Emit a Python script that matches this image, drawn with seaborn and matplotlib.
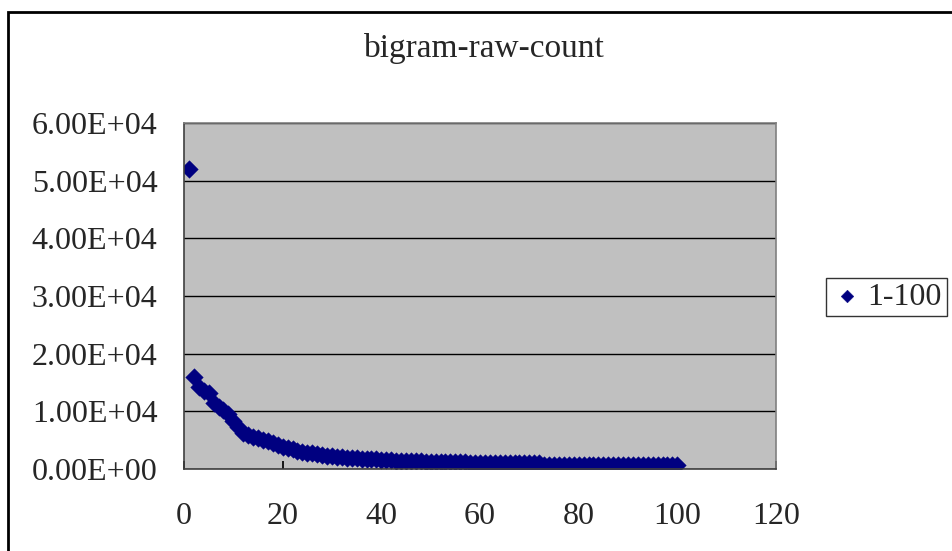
import matplotlib
matplotlib.use("Agg")
import matplotlib.pyplot as plt
import seaborn as sns
import pandas as pd
from matplotlib.patches import Rectangle

rank = list(range(1, 101))
counts = [
    52000, 16000, 14200, 13600, 13200, 11500, 10800, 10300, 9600, 8400,
    7200, 6300, 5900, 5600, 5300, 5100, 4800, 4500, 4200, 3900,
    3600, 3400, 3200, 3000, 2800, 2700, 2550, 2450, 2300, 2200,
    2100, 2050, 1980, 1900, 1850, 1800, 1750, 1700, 1650, 1550,
    1500, 1480, 1450, 1420, 1400, 1380, 1350, 1330, 1300, 1180,
    1170, 1160, 1150, 1150, 1140, 1130, 1130, 1120, 1120, 1110,
    1100, 1100, 1090, 1090, 1080, 1080, 1070, 1070, 1060, 1060,
    1050, 1050, 760, 750, 750, 740, 740, 730, 730, 720,
    720, 710, 710, 700, 700, 700, 690, 690, 690, 680,
    680, 680, 670, 670, 670, 660, 660, 660, 650, 650,
]
series_label = "1-100"
title = "bigram-raw-count"
yticks = [0, 10000, 20000, 30000, 40000, 50000, 60000]
ytick_labels = ["0.00E+00", "1.00E+04", "2.00E+04", "3.00E+04", "4.00E+04", "5.00E+04", "6.00E+04"]
xticks = [0, 20, 40, 60, 80, 100, 120]

df = pd.DataFrame({"rank": rank, "count": counts})

sns.set_theme(style="white")
font = ["Liberation Serif", "DejaVu Serif"]
plt.rcParams["font.family"] = font

fig = plt.figure(figsize=(9.52, 5.51), dpi=100)
W, H = 952, 551
ax = fig.add_axes([184 / W, (H - 469) / H, (776 - 184) / W, (469 - 123) / H])
ax.set_facecolor("#C0C0C0")

sns.scatterplot(data=df, x="rank", y="count", ax=ax, marker="D", s=80,
                color="#000080", edgecolor="#000080", linewidth=0.3,
                label=series_label, legend=True)

ax.set_xlim(0, 120)
ax.set_ylim(0, 60000)
ax.set_xticks(xticks)
ax.set_xticklabels([str(v) for v in xticks], fontsize=23)
ax.set_yticks(yticks)
ax.set_yticklabels(ytick_labels, fontsize=23)
ax.set_xlabel("")
ax.set_ylabel("")
ax.yaxis.grid(True, color="black", linewidth=1.0)
ax.xaxis.grid(False)
ax.set_axisbelow(True)
for s in ax.spines.values():
    s.set_color("#808080")
    s.set_linewidth(1.2)
ax.spines["left"].set_color("#404040")
ax.spines["bottom"].set_color("#404040")
ax.tick_params(axis="x", direction="in", length=6, color="black", pad=24, bottom=True)
ax.tick_params(axis="y", direction="in", length=0, pad=19, left=True)

fig.text(484 / W, 1 - 48 / H, title, ha="center", va="center", fontsize=24, family=font)

leg = ax.legend(loc="center left", bbox_to_anchor=(826 / W, 1 - 297 / H),
                bbox_transform=fig.transFigure, fontsize=23, frameon=True,
                fancybox=False, edgecolor="black", borderpad=0.15,
                handletextpad=0.15, handlelength=1.0, borderaxespad=0,
                markerscale=0.72)
leg.get_frame().set_linewidth(1.0)

fig.patches.append(Rectangle((8 / W, -0.1), 1.2, 1.1 - 12 / H + 0.0,
                             transform=fig.transFigure, fill=False,
                             edgecolor="black", linewidth=2.0))

fig.savefig("out.png", dpi=100)
